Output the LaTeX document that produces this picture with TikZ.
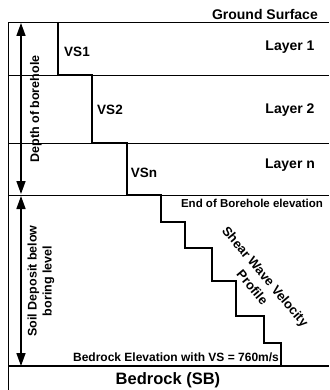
\documentclass[tikz,border=0pt]{standalone}
\usepackage{fontspec}
\setmainfont{Liberation Sans}
\usetikzlibrary{positioning, arrows.meta}

\begin{document}
\begin{tikzpicture}[x=1pt, y=-1pt,
    txt/.style={inner sep=0pt, font=\fontsize{14}{16}\selectfont\bfseries},
    small/.style={inner sep=0pt, font=\fontsize{11.5}{13}\selectfont\bfseries},
    side/.style={inner sep=0pt, rotate=90, align=center, font=\fontsize{12.5}{15}\selectfont\bfseries},
    layerline/.style={line width=0.9pt},
    depth/.style={{Triangle[length=13pt,width=9pt]}-{Triangle[length=13pt,width=9pt]}, line width=1.6pt}]
    \useasboundingbox (0,0) rectangle (329,390);

    % Define nodes
    \node[txt, anchor=east] (ground) at (318,14) {Ground Surface};
    \node[txt] (layer1) at (290,47) {Layer 1};
    \node[txt] (layer2) at (290,110) {Layer 2};
    \node[txt] (layern) at (290,165) {Layer n};
    \node[txt, font=\fontsize{13.5}{16}\selectfont\bfseries] (vs1) at (77,52) {VS1};
    \node[txt, font=\fontsize{13.5}{16}\selectfont\bfseries] (vs2) at (110,110) {VS2};
    \node[txt, font=\fontsize{13.5}{16}\selectfont\bfseries] (vsn) at (144,173) {VSn};
    \node[small] (eob) at (252,203) {End of Borehole elevation};
    \node[small, font=\fontsize{12}{14}\selectfont\bfseries] (bre) at (176,357) {Bedrock Elevation with VS = 760m/s};
    \node[txt, font=\fontsize{16.5}{19}\selectfont\bfseries] (bedrock) at (168,380) {Bedrock (SB)};
    \node[side] (dob) at (36,109) {Depth of borehole};
    \node[side] (soil) at (41,281) {Soil Deposit below\\boring level};
    \node[inner sep=0pt, rotate=-50, align=center, font=\fontsize{13}{17}\selectfont\bfseries] (swv) at (259,282) {Shear Wave Velocity\\Profile};

    \coordinate (dtop) at (21,23);
    \coordinate (dbot) at (21,194);
    \coordinate (stop) at (21,196);
    \coordinate (sbot) at (21,366);

    % Draw layers
    \draw[layerline] (8,390) -- (8,22) -- (329,22);
    \draw[layerline] (8,75) -- (329,75);
    \draw[layerline] (8,143) -- (329,143);
    \draw[layerline] (8,195) -- (329,195);
    \draw[line width=2pt] (8,366) -- (329,366);

    % Shear wave velocity profile
    \draw[line width=1.8pt] (58,22) |- (92,75) |- (127,143) |- (161,195) |- (185,222)
        |- (212,248) |- (236,281) |- (264,316) |- (281,343) -- (281,366);

    % Draw arrows
    \draw[depth] (dbot) -- (dtop);
    \draw[depth] (stop) -- (sbot);
\end{tikzpicture}
\end{document}
